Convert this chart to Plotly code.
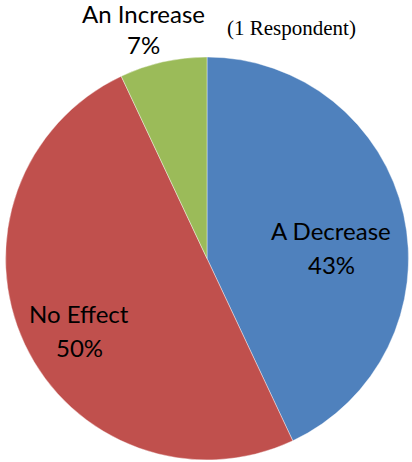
import plotly.graph_objects as go

labels = ["A Decrease", "No Effect", "An Increase"]
values = [43, 50, 7]
colors = ["#4F81BD", "#C0504D", "#9BBB59"]
pct_labels = ["43%", "50%", "7%"]

W, H = 412, 462
fig = go.Figure(go.Pie(
    labels=labels, values=values, sort=False, direction="clockwise", rotation=0,
    marker=dict(colors=colors, line=dict(color="white", width=0.4)),
    textinfo="none", hoverinfo="label+percent", showlegend=False,
    domain=dict(x=[5 / W, 409 / W], y=[1 - 460 / H, 1 - 57 / H]),
))

font = dict(family="Lato, Carlito, sans-serif", size=24, color="black")
label_pos = [(331, 230, 264), (79, 313, 347), (143, 14, 45)]
for lab, pct, (x, y1, y2) in zip(labels, pct_labels, label_pos):
    fig.add_annotation(x=x / W, y=1 - y1 / H, xref="paper", yref="paper", text=lab,
                       showarrow=False, font=font, xanchor="center", yanchor="middle")
    fig.add_annotation(x=x / W, y=1 - y2 / H, xref="paper", yref="paper", text=pct,
                       showarrow=False, font=font, xanchor="center", yanchor="middle")

fig.add_annotation(x=291 / W, y=1 - 28 / H, xref="paper", yref="paper", text="(1 Respondent)",
                   showarrow=False, font=dict(family="Liberation Serif, Times New Roman, serif", size=21, color="black"),
                   xanchor="center", yanchor="middle")

fig.update_layout(width=W, height=H, margin=dict(l=0, r=0, t=0, b=0),
                  paper_bgcolor="white", plot_bgcolor="white")
fig.write_html("out.html", config={"displayModeBar": False},
               post_script="document.body.style.margin='0';document.body.style.overflow='hidden';")
